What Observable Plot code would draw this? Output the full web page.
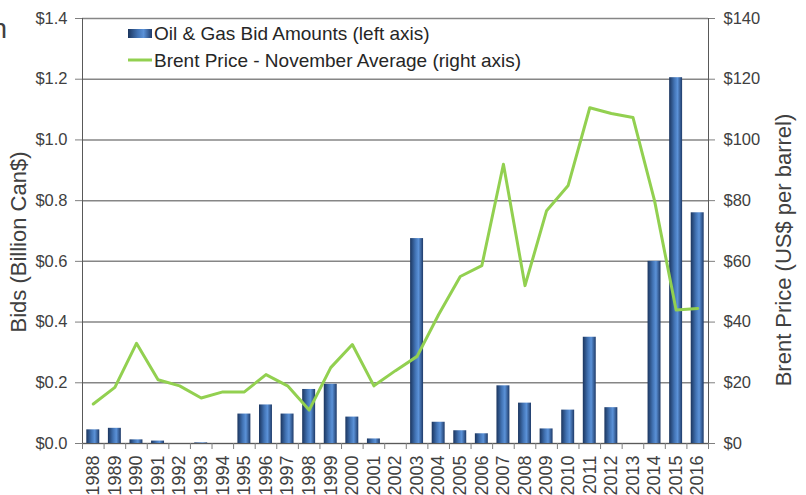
<!DOCTYPE html>
<html><head><meta charset="utf-8">
<script src="https://cdn.jsdelivr.net/npm/d3@7"></script>
<script src="https://cdn.jsdelivr.net/npm/@observablehq/plot@0.6"></script>
<style>html,body{margin:0;padding:0;background:#fff;overflow:hidden}</style>
</head><body><div id="chart"></div>
<script>
const years = [1988,1989,1990,1991,1992,1993,1994,1995,1996,1997,1998,1999,2000,2001,2002,2003,2004,2005,2006,2007,2008,2009,2010,2011,2012,2013,2014,2015,2016];
const bids = [0.045,0.05,0.012,0.008,0,0.002,0,0.097,0.127,0.097,0.178,0.195,0.087,0.015,0,0.675,0.07,0.042,0.032,0.19,0.133,0.048,0.11,0.35,0.118,0,0.60,1.205,0.76];
const brent = [13,18.5,33,21,19,15,17,17,22.7,19,11,25,32.6,19,24,28.7,42.5,55,58.6,92,52,76.7,85,110.6,108.7,107.4,80,44,44.5];
const bidTicks = [0,0.2,0.4,0.6,0.8,1.0,1.2,1.4];
const brentTicks = [0,20,40,60,80,100,120,140];
const legendLabels = ["Oil & Gas Bid Amounts (left axis)", "Brent Price - November Average (right axis)"];
const leftTitle = "Bids (Billion Can$)";
const rightTitle = "Brent Price (US$ per barrel)";

const rows = years.map((year, i) => ({year, bid: bids[i], brent: brent[i]}));
const boundaries = [years[0] - 0.5, ...years.map(y => y + 0.5)];

const chart = Plot.plot({
  width: 806, height: 495,
  marginLeft: 82, marginRight: 98, marginTop: 18, marginBottom: 52,
  x: {domain: [years[0] - 0.5, years[years.length - 1] + 0.5]},
  y: {domain: [0, 1.4]},
  style: {fontFamily: "'Liberation Sans', Arial, sans-serif", fontSize: "16.5px", color: "#404040", background: "#fff"},
  marks: [
    Plot.gridY(bidTicks, {stroke: "#868686", strokeOpacity: 1, strokeWidth: 1.5}),
    Plot.rectY(rows, {x1: d => d.year - 0.3, x2: d => d.year + 0.3, y1: d => 0, y2: "bid", fill: "url(#barGrad)"}),
    Plot.line(rows, {x: "year", y: d => d.brent / 100, stroke: "#92d050", strokeWidth: 3}),
    Plot.ruleX([boundaries[0], boundaries[boundaries.length - 1]], {stroke: "#595959", strokeWidth: 1}),
    Plot.ruleY([0], {stroke: "#595959", strokeWidth: 1}),
    Plot.axisY({anchor: "left", ticks: bidTicks, tickFormat: d => "$" + d.toFixed(1), tickSize: 7, tickPadding: 8, stroke: "#7f7f7f", fill: "#404040", label: null}),
    Plot.axisY({anchor: "right", ticks: brentTicks.map(v => v / 100), tickFormat: d => "$" + Math.round(d * 100), tickSize: 6, tickPadding: 9, stroke: "#7f7f7f", fill: "#404040", label: null}),
    Plot.axisX({ticks: boundaries, tickFormat: () => "", tickSize: 6, stroke: "#7f7f7f", label: null}),
    Plot.axisX({ticks: years, tickFormat: d => String(d), tickSize: 0, tickRotate: -90, tickPadding: 12, fill: "#404040", fontSize: "18px", label: null})
  ]
});

const svg = d3.select(chart);
const defs = svg.insert("defs", ":first-child");
const grad = defs.append("linearGradient").attr("id", "barGrad").attr("x1", 0).attr("x2", 1).attr("y1", 0).attr("y2", 0);
[[0, "#1b355e"], [0.4, "#4273b4"], [0.65, "#5b92d8"], [1, "#1e3a68"]].forEach(([o, c]) =>
  grad.append("stop").attr("offset", o).attr("stop-color", c));

const g = svg.append("g").attr("font-family", "'Liberation Sans', Arial, sans-serif").attr("fill", "#262626").attr("text-anchor", "start");
g.append("rect").attr("x", 128).attr("y", 29).attr("width", 24).attr("height", 9).attr("fill", "url(#barGrad)");
g.append("text").attr("x", 154).attr("y", 40).attr("font-size", 19).text(legendLabels[0]);
g.append("line").attr("x1", 128).attr("x2", 152).attr("y1", 60).attr("y2", 60).attr("stroke", "#92d050").attr("stroke-width", 3);
g.append("text").attr("x", 154).attr("y", 67).attr("font-size", 19).text(legendLabels[1]);

g.append("text").attr("transform", "translate(26,242) rotate(-90)").attr("text-anchor", "middle").attr("font-size", 22).attr("fill", "#404040").text(leftTitle);
g.append("text").attr("transform", "translate(791,250) rotate(-90)").attr("text-anchor", "middle").attr("font-size", 22).attr("fill", "#404040").text(rightTitle);
g.append("text").attr("x", -8.5).attr("y", 38).attr("font-size", 28).attr("fill", "#404040").text("n");

document.getElementById("chart").appendChild(chart);
</script>
</body></html>
